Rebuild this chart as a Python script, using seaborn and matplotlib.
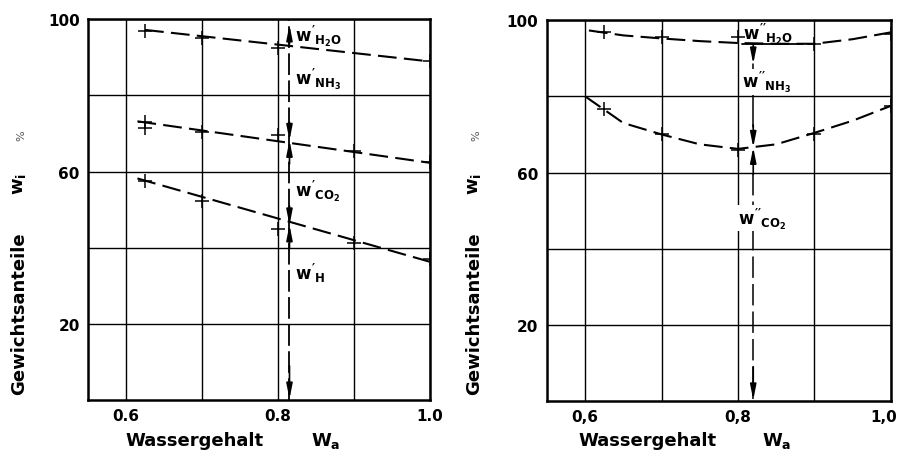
import numpy as np
import pandas as pd
import seaborn as sns
import matplotlib
matplotlib.use("Agg")
import matplotlib.pyplot as plt
from matplotlib.transforms import blended_transform_factory, ScaledTranslation

# ---------------- data ----------------
# left panel: liquid phase w'
L_line_x = [0.615, 1.0]
L_h2o_line_x = [0.625, 1.005]
L_h2o_line_y = [97.2, 88.8]
L_nh3_line_y = [73.2, 62.3]
L_co2_line_y = [58.2, 36.3]
L_h2o_pts_x = [0.625, 0.7, 0.8, 1.0]
L_h2o_pts_y = [97.0, 95.0, 92.4, 89.0]
L_nh3_pts_x = [0.625, 0.625, 0.7, 0.8, 0.9, 1.0]
L_nh3_pts_y = [73.0, 71.5, 70.3, 69.6, 65.3, 62.5]
L_co2_pts_x = [0.625, 0.7, 0.8, 0.9, 1.0]
L_co2_pts_y = [57.5, 52.2, 45.0, 41.2, 37.0]

# right panel: vapour phase w''
R_line_x = [0.605, 0.65, 0.7, 0.75, 0.8, 0.85, 0.9, 0.95, 1.0]
R_h2o_line_y = [97.3, 96.0, 95.2, 94.5, 94.0, 93.8, 93.8, 95.0, 96.8]
R_nh3_line_x = [0.6, 0.65, 0.7, 0.75, 0.8, 0.85, 0.9, 0.95, 1.0]
R_nh3_line_y = [80.0, 73.0, 70.0, 67.4, 66.2, 67.4, 70.4, 73.6, 77.5]
R_h2o_pts_x = [0.625, 0.7, 0.8, 0.9, 1.0]
R_h2o_pts_y = [96.8, 95.7, 95.5, 93.7, 96.3]
R_nh3_pts_x = [0.625, 0.7, 0.8, 0.9, 1.0]
R_nh3_pts_y = [76.7, 70.2, 65.8, 70.2, 77.5]

x_ticks = [0.6, 0.7, 0.8, 0.9, 1.0]
L_xtick_labels = ["0.6", "", "0.8", "", "1.0"]
R_xtick_labels = ["0,6", "", "0,8", "", "1,0"]
y_ticks = [20, 40, 60, 80, 100]
y_tick_labels = ["20", "", "60", "", "100"]
L_marker_x = 0.815
R_marker_x = 0.82

# ---------------- style ----------------
sns.set_style("white")
plt.rcParams["font.family"] = ["DejaVu Sans"]
plt.rcParams["font.weight"] = "bold"
plt.rcParams["text.color"] = "black"
plt.rcParams["xtick.color"] = "black"
plt.rcParams["ytick.color"] = "black"
plt.rcParams["axes.labelcolor"] = "black"
plt.rcParams["mathtext.fontset"] = "custom"
plt.rcParams["mathtext.rm"] = "DejaVu Sans:bold"
plt.rcParams["mathtext.it"] = "DejaVu Sans:bold"
plt.rcParams["mathtext.bf"] = "DejaVu Sans:bold"

fig = plt.figure(figsize=(8.98, 4.60), dpi=100)
axL = fig.add_axes([0.098, 0.128, 0.381, 0.828])
axR = fig.add_axes([0.609, 0.126, 0.383, 0.828])

DASH = (0, (9, 3.5))
LW = 1.5


def base(ax, xlabels):
    ax.set_xlim(0.55, 1.0)
    ax.set_ylim(0, 100)
    ax.set_xticks(x_ticks)
    ax.set_xticklabels(xlabels, fontsize=11, fontweight="bold", color="black")
    ax.set_yticks(y_ticks)
    ax.set_yticklabels(y_tick_labels, fontsize=11, fontweight="bold", color="black")
    ax.tick_params(length=0, pad=6)
    ax.grid(True, color="black", lw=1.0)
    for s in ax.spines.values():
        s.set_color("black")
        s.set_linewidth(1.8)
    ax.set_xlabel("")
    ax.set_ylabel("")


def line(ax, x, y):
    sns.lineplot(x=x, y=y, ax=ax, color="black", lw=LW, linestyle=DASH,
                 sort=False, estimator=None)


def pts(ax, x, y):
    sns.scatterplot(x=x, y=y, ax=ax, marker="+", s=100, color="black",
                    linewidth=1.1, zorder=5)


def arrow(ax, x, y0, y1):
    ax.annotate("", xy=(x, y1), xytext=(x, y0),
                arrowprops=dict(arrowstyle="-|>,head_length=0.9,head_width=0.18",
                                color="black", lw=1.2, shrinkA=0, shrinkB=0),
                zorder=6)


# ---------------- left panel ----------------
line(axL, L_h2o_line_x, L_h2o_line_y)
line(axL, L_line_x, L_nh3_line_y)
line(axL, L_line_x, L_co2_line_y)
pts(axL, L_h2o_pts_x, L_h2o_pts_y)
pts(axL, L_nh3_pts_x, L_nh3_pts_y)
pts(axL, L_co2_pts_x, L_co2_pts_y)
base(axL, L_xtick_labels)

axL.axvline(L_marker_x, color="black", lw=1.3, linestyle=(0, (12, 3)), zorder=4)
arrow(axL, L_marker_x, 93.5, 98.5)
arrow(axL, L_marker_x, 73.0, 68.2)
arrow(axL, L_marker_x, 62.0, 68.2)
arrow(axL, L_marker_x, 51.0, 46.0)
arrow(axL, L_marker_x, 40.0, 46.0)
arrow(axL, L_marker_x, 9.0, 0.3)

lab = dict(fontsize=12, va="center", ha="left", zorder=7)
axL.text(0.822, 95.8, r"$w'_{H_2O}$", **lab)
axL.text(0.822, 84.5, r"$w'_{NH_3}$", **lab)
axL.text(0.822, 55.0, r"$w'_{CO_2}$", **lab)
axL.text(0.822, 33.5, r"$w'_{H}$", **lab)

# ---------------- right panel ----------------
line(axR, R_line_x, R_h2o_line_y)
line(axR, R_nh3_line_x, R_nh3_line_y)
pts(axR, R_h2o_pts_x, R_h2o_pts_y)
pts(axR, R_nh3_pts_x, R_nh3_pts_y)
base(axR, R_xtick_labels[:-1] + [""])

# last right-hand tick label, right-aligned so it stays inside the figure
trans = blended_transform_factory(axR.transData, axR.transAxes) + \
    ScaledTranslation(6 / 100, -6 / 72, fig.dpi_scale_trans)
axR.text(x_ticks[-1], 0, R_xtick_labels[-1], transform=trans, ha="right",
         va="top", fontsize=11, fontweight="bold", clip_on=False)

axR.plot([0.805, 0.885], [93.7, 93.7], color="black", lw=1.3, zorder=4)
arrow(axR, R_marker_x, 93.7, 88.5)
axR.plot([R_marker_x, R_marker_x], [88.5, 72], color="black", lw=1.1, zorder=4)
arrow(axR, R_marker_x, 72.5, 66.6)
arrow(axR, R_marker_x, 59.5, 66.6)
axR.plot([R_marker_x, R_marker_x], [59.5, 0.5], color="black", lw=1.1,
         linestyle=(0, (14, 4)), zorder=4)
arrow(axR, R_marker_x, 9.0, 0.3)

labR = dict(fontsize=12, va="center", ha="left", zorder=7,
            bbox=dict(facecolor="white", edgecolor="none", pad=0.5))
axR.text(0.806, 96.6, r"$w''_{H_2O}$", fontsize=12, va="center", ha="left", zorder=7)
axR.text(0.805, 83.8, r"$w''_{NH_3}$", **labR)
axR.text(0.800, 48.0, r"$w''_{CO_2}$", **labR)

# ---------------- axis titles ----------------
for xc, xw, xg in [(195, 326, 19), (648, 777, 474)]:
    fig.text(xc / 898, 1 - 441 / 460, "Wassergehalt", fontsize=13,
             fontweight="bold", ha="center", va="center")
    fig.text(xw / 898, 1 - 441 / 460, r"$W_a$", fontsize=13,
             ha="center", va="center")
    fig.text(xg / 898, 1 - 314 / 460, "Gewichtsanteile", fontsize=13,
             fontweight="bold", rotation=90, ha="center", va="center")
    fig.text(xg / 898, 1 - 184 / 460, r"$w_i$", fontsize=13,
             rotation=90, ha="center", va="center")
    fig.text((xg + 2) / 898, 1 - 136 / 460, "%", fontsize=8, color="#555555",
             fontweight="normal", rotation=90, ha="center", va="center")

fig.savefig("out.png", dpi=100, facecolor="white")
